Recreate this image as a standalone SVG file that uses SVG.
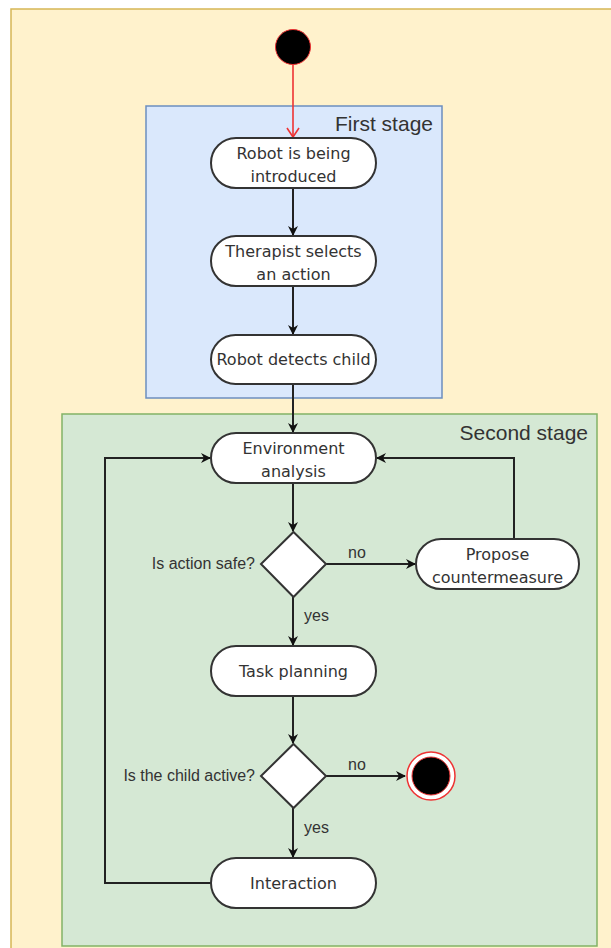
<svg xmlns="http://www.w3.org/2000/svg" width="611" height="948" viewBox="0 0 611 948">
<style>
.node{fill:#ffffff;stroke:#333333;stroke-width:2}
.t{font-family:"DejaVu Sans",Verdana,sans-serif;font-size:16px;fill:#333333;text-anchor:middle}
.lbl{font-family:"Liberation Sans",Arial,sans-serif;font-size:16px;fill:#333333}
.stage{font-family:"Liberation Sans",Arial,sans-serif;font-size:21px;fill:#333333;text-anchor:end}
.c{fill:none;stroke:#222222;stroke-width:2}
</style>
<defs>
<marker id="ah" markerWidth="12" markerHeight="12" refX="10" refY="6" orient="auto" markerUnits="userSpaceOnUse">
<path d="M1,1 L11,6 L1,11 L4,6 Z" fill="#111111"/>
</marker>
<marker id="ahr" markerWidth="14" markerHeight="14" refX="7" refY="12" orient="0" markerUnits="userSpaceOnUse">
<path d="M1,3 L7,12 L13,3" fill="none" stroke="#ee3333" stroke-width="1.6"/>
</marker>
</defs>
<rect id="bg" x="11" y="9" width="620" height="960" fill="#fff2cc" stroke="#d6b656" stroke-width="1.5"/>
<g id="stage1">
<rect x="146" y="106" width="296" height="292" fill="#dae8fc" stroke="#6c8ebf" stroke-width="1.5"/>
<text class="stage" x="433" y="131">First stage</text>
</g>
<g id="stage2">
<rect x="62" y="414" width="535" height="532" fill="#d5e8d4" stroke="#82b366" stroke-width="1.5"/>
<text class="stage" x="588" y="440">Second stage</text>
</g>
<g id="connectors">
<line x1="293" y1="65" x2="293" y2="137" stroke="#ee3333" stroke-width="1.6" marker-end="url(#ahr)"/>
<line class="c" x1="293" y1="188" x2="293" y2="235" marker-end="url(#ah)"/>
<line class="c" x1="293" y1="286" x2="293" y2="334" marker-end="url(#ah)"/>
<line class="c" x1="293" y1="384" x2="293" y2="432" marker-end="url(#ah)"/>
<line class="c" x1="293" y1="483" x2="293" y2="531" marker-end="url(#ah)"/>
<line class="c" x1="326" y1="564" x2="415" y2="564" marker-end="url(#ah)"/>
<polyline class="c" points="514,539 514,458 377,458" marker-end="url(#ah)"/>
<line class="c" x1="293" y1="597" x2="293" y2="645" marker-end="url(#ah)"/>
<line class="c" x1="293" y1="696" x2="293" y2="743" marker-end="url(#ah)"/>
<line class="c" x1="326" y1="776" x2="405" y2="776" marker-end="url(#ah)"/>
<line class="c" x1="293" y1="808" x2="293" y2="857" marker-end="url(#ah)"/>
<polyline class="c" points="211,883 105,883 105,458 210,458" marker-end="url(#ah)"/>
<text class="lbl" x="348" y="558">no</text>
<text class="lbl" x="304" y="621">yes</text>
<text class="lbl" x="348" y="770">no</text>
<text class="lbl" x="304" y="833">yes</text>
</g>
<g id="start"><circle cx="293" cy="47" r="17.5" fill="#000000" stroke="#ee3333" stroke-width="1"/></g>
<g id="n1"><rect class="node" x="211" y="138" width="165" height="50" rx="25"/><text class="t" x="293.5" y="159">Robot is being</text><text class="t" x="293.5" y="182">introduced</text></g>
<g id="n2"><rect class="node" x="211" y="236" width="165" height="50" rx="25"/><text class="t" x="293.5" y="257">Therapist selects</text><text class="t" x="293.5" y="280">an action</text></g>
<g id="n3"><rect class="node" x="211" y="335" width="165" height="49" rx="24.5"/><text class="t" x="293.5" y="365">Robot detects child</text></g>
<g id="n4"><rect class="node" x="211" y="433" width="165" height="50" rx="25"/><text class="t" x="293.5" y="454">Environment</text><text class="t" x="293.5" y="477">analysis</text></g>
<g id="d1"><polygon class="node" points="293.5,532 326,564 293.5,597 261,564"/><text class="lbl" x="255" y="569" text-anchor="end">Is action safe?</text></g>
<g id="n5"><rect class="node" x="416" y="539" width="163" height="50" rx="25"/><text class="t" x="497.5" y="560">Propose</text><text class="t" x="497.5" y="583">countermeasure</text></g>
<g id="n6"><rect class="node" x="211" y="646" width="165" height="50" rx="25"/><text class="t" x="293.5" y="677">Task planning</text></g>
<g id="d2"><polygon class="node" points="293.5,744 326,776 293.5,808 261,776"/><text class="lbl" x="255" y="781" text-anchor="end">Is the child active?</text></g>
<g id="end"><circle cx="431" cy="776" r="24" fill="#ffffff" stroke="#ee3333" stroke-width="1.5"/><circle cx="431" cy="776" r="19" fill="#000000" stroke="#ee3333" stroke-width="1"/></g>
<g id="n7"><rect class="node" x="211" y="858" width="165" height="50" rx="25"/><text class="t" x="293.5" y="889">Interaction</text></g>
</svg>
